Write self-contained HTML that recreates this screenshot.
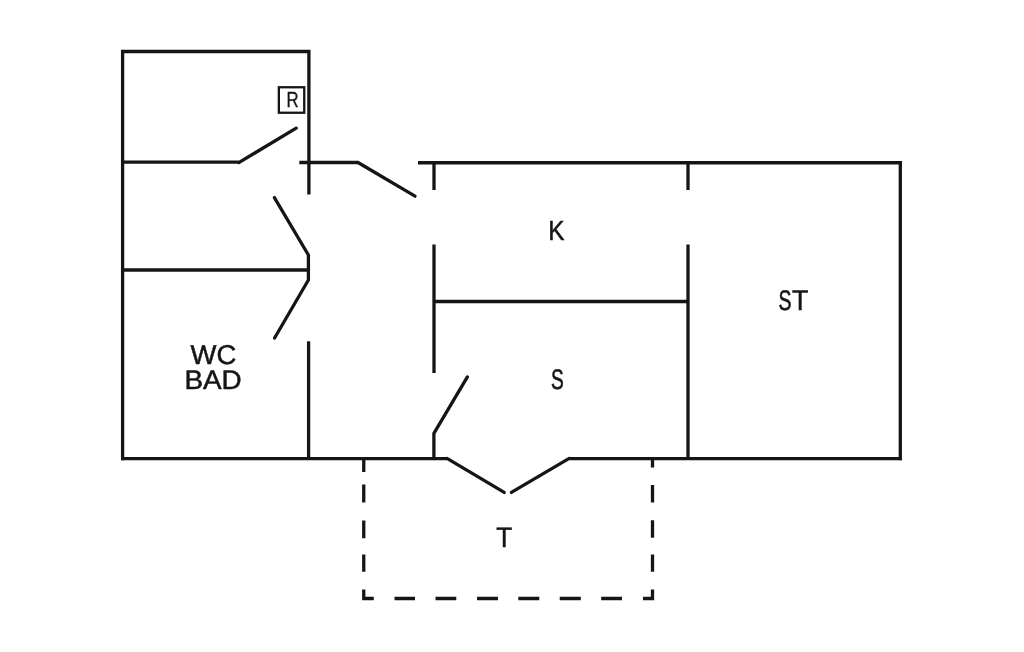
<!DOCTYPE html>
<html><head><meta charset="utf-8">
<style>
html,body{margin:0;padding:0;background:#fff;}
body{width:1024px;height:652px;overflow:hidden;}
svg{display:block;}
text{font-family:"Liberation Sans",sans-serif;fill:#141616;text-rendering:geometricPrecision;}
</style></head><body>
<svg width="1024" height="652" viewBox="0 0 1024 652">
<rect width="1024" height="652" fill="#ffffff"/>
<g fill="none" stroke="#141616" stroke-width="3.3" stroke-linecap="butt" stroke-linejoin="miter">
  <!-- left block outline -->
  <path d="M122.6,460.3 L122.6,51.5 L308.9,51.5 L308.9,194.5"/>
  <!-- wall y=162 + door -->
  <path d="M122.6,162.1 L238.8,162.1" />
  <path d="M238.8,162.6 L296.2,128.2" stroke-linecap="round"/>
  <!-- wall y=270 -->
  <path d="M122.6,270 L308.6,270"/>
  <!-- hinge post + doors -->
  <path d="M274.4,197.6 L308.4,255 L308.4,280 L274.6,338" stroke-linecap="round" stroke-linejoin="round"/>
  <path d="M308.6,341.3 L308.6,458.5"/>
  <!-- bottom wall -->
  <path d="M121.0,458.7 L447,458.7"/>
  <path d="M447,458.4 L504.2,492.4" stroke-linecap="round"/>
  <path d="M511.4,492.4 L569.2,458.4" stroke-linecap="round"/>
  <path d="M569.2,458.7 L901.9,458.7"/>
  <!-- small horizontal + door -->
  <path d="M299.3,162.5 L358,162.5"/>
  <path d="M358,162.5 L415,196.2" stroke-linecap="round"/>
  <!-- top wall -->
  <path d="M418,162.75 L901.9,162.75"/>
  <path d="M900.3,161.1 L900.3,460.3"/>
  <!-- x=434 -->
  <path d="M434,162.75 L434,190"/>
  <path d="M434,244.5 L434,373"/>
  <path d="M467.4,376.9 L433.9,433.3 L433.9,458.5" stroke-linecap="round" stroke-linejoin="round"/>
  <!-- y=301.5 -->
  <path d="M434,301.5 L688,301.5"/>
  <!-- x=688 -->
  <path d="M688,162.75 L688,190"/>
  <path d="M688,244.5 L688,458.5"/>
</g>
<!-- dashed terrace -->
<g fill="none" stroke="#141616" stroke-width="3.3">
  <path d="M363.75,460 L363.75,472 M363.75,484.5 L363.75,502.5 M363.75,520.5 L363.75,538.3 M363.75,554.5 L363.75,571.8 M363.75,589.5 L363.75,598.5 L373.8,598.5"/>
  <path d="M394.5,598.5 L415,598.5 M435.5,598.5 L456.3,598.5 M477,598.5 L498,598.5 M518.3,598.5 L539.3,598.5 M559.7,598.5 L580.8,598.5 M601.2,598.5 L622,598.5"/>
  <path d="M643,598.5 L652.5,598.5 L652.5,589.5 M652.5,571.8 L652.5,554.5 M652.5,537.8 L652.5,520.2 M652.5,502.5 L652.5,485 M652.5,467.5 L652.5,460"/>
</g>
<!-- R box -->
<rect x="278.85" y="87.25" width="25.4" height="25.5" fill="none" stroke="#141616" stroke-width="2.3"/>
<g style="opacity:0.999">
<text x="292.65" y="107.45" font-size="21.8" text-anchor="middle" transform="translate(292.65 0) scale(0.77 1) translate(-292.65 0)" stroke="#141616" stroke-width="0.35">R</text>
<!-- labels -->
<text x="213.5" y="364.35" font-size="27.2" text-anchor="middle" transform="translate(213.5 0) scale(1.01 1) translate(-213.5 0)" stroke="#141616" stroke-width="0.5">WC</text>
<text x="213.1" y="389.3" font-size="26.8" text-anchor="middle" transform="translate(213.1 0) scale(1.04 1) translate(-213.1 0)" stroke="#141616" stroke-width="0.5">BAD</text>
<text x="556.4" y="240.4" font-size="27.7" text-anchor="middle" transform="translate(556.4 0) scale(0.88 1) translate(-556.4 0)" stroke="#141616" stroke-width="0.5">K</text>
<text x="557.4" y="388.65" font-size="28.2" text-anchor="middle" transform="translate(557.4 0) scale(0.68 1) translate(-557.4 0)" stroke="#141616" stroke-width="0.6">S</text>
<text x="504.3" y="546.6" font-size="28.1" text-anchor="middle" transform="translate(504.3 0) scale(0.93 1) translate(-504.3 0)" stroke="#141616" stroke-width="0.5">T</text>
<text x="785.0" y="310.15" font-size="28.2" text-anchor="middle" transform="translate(785.0 0) scale(0.69 1) translate(-785.0 0)" stroke="#141616" stroke-width="0.6">S</text>
<text x="800.2" y="310.2" font-size="28.5" text-anchor="middle" transform="translate(800.2 0) scale(0.94 1) translate(-800.2 0)" stroke="#141616" stroke-width="0.5">T</text>
</g>
</svg>
</body></html>
